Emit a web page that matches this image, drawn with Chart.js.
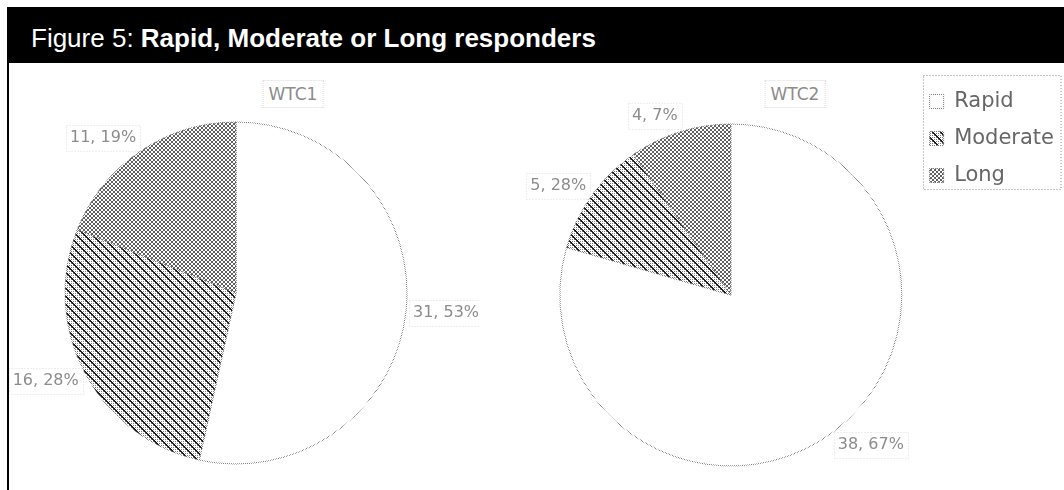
<!DOCTYPE html>
<html>
<head>
<meta charset="utf-8">
<script src="https://cdn.jsdelivr.net/npm/chart.js@4.4.0/dist/chart.umd.min.js"></script>
<style>
  html, body { margin: 0; padding: 0; background: #fff; overflow: hidden; }
  #page { position: relative; width: 1064px; height: 490px; overflow: hidden;
          font-family: "Liberation Sans", Arial, sans-serif; }
  #titleBar { position: absolute; left: 7px; top: 7px; right: 0; height: 56px; background: #000;
              color: #fff; font-size: 26px; line-height: 30px; padding: 16px 0 0 24px;
              box-sizing: border-box; white-space: nowrap; }
  #frameLeft { position: absolute; left: 7px; top: 63px; width: 2px; bottom: 0; background: #000; }
  .pieTitle { position: absolute; top: 80px; font: 17px "DejaVu Sans", sans-serif; color: #8c8c8c;
              transform: translateX(-50%); border: 1px dotted #dcdcdc; padding: 3px 5px; }
  .chartBox { position: absolute; top: 63px; }
</style>
</head>
<body>
<div id="page">
  <div id="titleBar">Figure 5: <b>Rapid, Moderate or Long responders</b></div>
  <div id="frameLeft"></div>
  <div class="pieTitle" style="left:293px">WTC1</div>
  <div class="pieTitle" style="left:795px">WTC2</div>
  <div class="chartBox" style="left:9px;width:470px;height:427px"><canvas id="pie1"></canvas></div>
  <div class="chartBox" style="left:480px;width:584px;height:452px"><canvas id="pie2"></canvas></div>
</div>
<script>
const categories = ['Rapid', 'Moderate', 'Long'];
const wtc1Values = [31.53, 16.28, 11.19];
const wtc2Values = [38.67, 5.28, 4.7];

const LABEL_FONT = '"DejaVu Sans", sans-serif';

// values are printed with a comma separator, e.g. "31, 53%"
function pctText(v) {
    return String(v).replace('.', ', ') + '%';
}

// small tiles used as fills (printed greyscale look)
function makePattern(size, draw) {
    const c = document.createElement('canvas');
    c.width = size;
    c.height = size;
    const g = c.getContext('2d');
    draw(g, size);
    return g.createPattern(c, 'repeat');
}

const rapidFill = makePattern(2, (g) => {
    g.fillStyle = '#fff';
    g.fillRect(0, 0, 2, 2);
});

const moderateFill = makePattern(8, (g, n) => {
    g.fillStyle = '#fff';
    g.fillRect(0, 0, n, n);
    g.fillStyle = '#7a7a7a';
    for (let x = 0; x < n; x += 2)
        for (let y = 0; y < n; y += 2)
            g.fillRect(x, y, 1, 1);
    g.fillStyle = '#1e1e1e';
    for (let i = 0; i < n; i++) {
        g.fillRect(i, i, 1, 1);
        g.fillRect(i, (i + 1) % n, 1, 1);
    }
});

const longFill = makePattern(4, (g) => {
    g.fillStyle = '#fff';
    g.fillRect(0, 0, 4, 4);
    g.fillStyle = '#606060';
    g.fillRect(0, 0, 2, 2);
    g.fillRect(2, 2, 2, 2);
});

// dotted grey outline
const dottedLine = makePattern(2, (g) => {
    g.fillStyle = '#7a7a7a';
    g.fillRect(0, 0, 1, 1);
    g.fillRect(1, 1, 1, 1);
});

const fills = [rapidFill, moderateFill, longFill];

// percentage labels just outside each slice
const sliceLabels = {
    id: 'sliceLabels',
    afterDatasetsDraw(chart) {
        const ctx = chart.ctx;
        const meta = chart.getDatasetMeta(0);
        const values = chart.data.datasets[0].data;
        const size = 16;
        ctx.save();
        ctx.font = size + 'px ' + LABEL_FONT;
        ctx.textBaseline = 'middle';
        ctx.textAlign = 'left';
        meta.data.forEach((arc, i) => {
            const p = arc.getProps(['x', 'y', 'startAngle', 'endAngle', 'outerRadius'], true);
            const mid = (p.startAngle + p.endAngle) / 2;
            const cos = Math.cos(mid), sin = Math.sin(mid);
            const r = p.outerRadius + 7;
            const text = pctText(values[i]);
            const w = ctx.measureText(text).width;
            const tx = cos >= 0 ? p.x + cos * r : p.x + cos * r - w;
            const ty = p.y + sin * r + sin * size * 0.6;
            ctx.fillStyle = '#8c8c8c';
            ctx.fillText(text, tx, ty);
            ctx.strokeStyle = '#dcdcdc';
            ctx.lineWidth = 1;
            ctx.setLineDash([1, 2]);
            ctx.strokeRect(Math.round(tx - 4) + 0.5, Math.round(ty - size / 2 - 5) + 0.5, Math.round(w + 8), size + 10);
        });
        ctx.restore();
    }
};

// dotted frame round the legend entries
const legendFrame = {
    id: 'legendFrame',
    afterDraw(chart) {
        const lg = chart.legend;
        if (!lg || !lg.legendHitBoxes.length) return;
        const boxes = lg.legendHitBoxes;
        const last = boxes[boxes.length - 1];
        const ctx = chart.ctx;
        ctx.save();
        ctx.strokeStyle = '#8c8c8c';
        ctx.lineWidth = 1;
        ctx.setLineDash([1, 2]);
        const left = Math.round(lg.left + 9) + 0.5;
        const top = Math.round(lg.top) + 0.5;
        const bottom = Math.round(last.top + last.height + 3) + 0.5;
        ctx.strokeRect(left, top, chart.width - 3 - left, bottom - top);
        ctx.restore();
    }
};

function pieConfig(values, withLegend, padding) {
    return {
        type: 'pie',
        data: {
            labels: categories,
            datasets: [{
                data: values,
                backgroundColor: fills,
                borderColor: dottedLine,
                borderWidth: 1,
                hoverOffset: 0,
                radius: 171
            }]
        },
        options: {
            responsive: true,
            maintainAspectRatio: false,
            animation: false,
            events: [],
            layout: { padding: padding },
            plugins: {
                legend: {
                    display: withLegend,
                    position: 'right',
                    align: 'start',
                    labels: {
                        color: '#666',
                        boxWidth: 14,
                        boxHeight: 14,
                        padding: 16,
                        font: { family: LABEL_FONT, size: 21 }
                    }
                },
                tooltip: { enabled: false },
                title: { display: false }
            }
        },
        plugins: withLegend ? [sliceLabels, legendFrame] : [sliceLabels]
    };
}

new Chart(document.getElementById('pie1'), pieConfig(wtc1Values, false, { top: 33, bottom: 0, left: 0, right: 16 }));
new Chart(document.getElementById('pie2'), pieConfig(wtc2Values, true, { top: 12, bottom: 0, left: 68, right: 0 }));
</script>
</body>
</html>
